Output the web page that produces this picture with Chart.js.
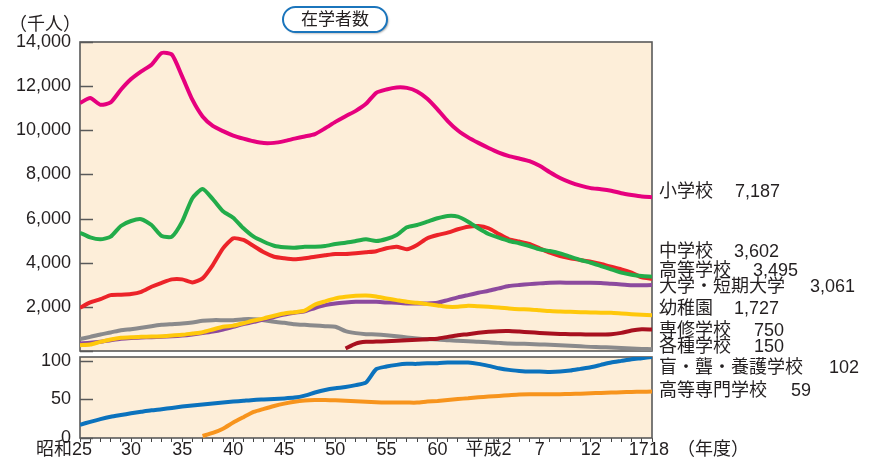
<!DOCTYPE html>
<html lang="ja">
<head>
<meta charset="utf-8">
<title>在学者数</title>
<script src="https://cdn.jsdelivr.net/npm/chart.js@4.4.1/dist/chart.umd.min.js"></script>
<style>
  html, body { margin: 0; padding: 0; background: #fff; }
  #wrap { position: relative; width: 876px; height: 461px; }
  #wrap canvas { position: absolute; left: 0; top: 0; }
</style>
</head>
<body>
<div id="wrap">
  <canvas id="upperChart" width="876" height="461"></canvas>
  <canvas id="lowerChart" width="876" height="461"></canvas>
</div>
<script>
// ─── Data (千人, 昭和25 = 1950 … 平成18 = 2006) ─────────────────────────────
const years = [
  1950, 1951, 1952, 1953, 1954, 1955, 1956, 1957, 1958, 1959,
  1960, 1961, 1962, 1963, 1964, 1965, 1966, 1967, 1968, 1969,
  1970, 1971, 1972, 1973, 1974, 1975, 1976, 1977, 1978, 1979,
  1980, 1981, 1982, 1983, 1984, 1985, 1986, 1987, 1988, 1989,
  1990, 1991, 1992, 1993, 1994, 1995, 1996, 1997, 1998, 1999,
  2000, 2001, 2002, 2003, 2004, 2005, 2006
];

const elementary = [
  11235, 11460, 11157, 11262, 11838, 12322, 12670, 12973, 13504, 13428,
  12443, 11385, 10627, 10200, 9960, 9760, 9620, 9500, 9420, 9430,
  9510, 9620, 9720, 9830, 10090, 10380, 10640, 10880, 11200, 11700,
  11850, 11940, 11920, 11760, 11430, 10950, 10420, 9990, 9680, 9430,
  9200, 8990, 8830, 8720, 8600, 8390, 8100, 7840, 7640, 7490,
  7380, 7330, 7260, 7150, 7070, 7000, 6970
];
const juniorHigh = [
  5360, 5150, 5060, 5180, 5665, 5890, 5970, 5710, 5210, 5180,
  5860, 6920, 7340, 6880, 6330, 6040, 5560, 5180, 4950, 4770,
  4700, 4680, 4725, 4725, 4757, 4848, 4907, 4984, 5061, 4984,
  5075, 5256, 5606, 5710, 5860, 6014, 6119, 6088, 5860, 5561,
  5302, 5134, 4984, 4880, 4757, 4607, 4530, 4426, 4271, 4122,
  4000, 3849, 3699, 3548, 3454, 3395, 3364
];
const highSchool = [
  1957, 2200, 2351, 2533, 2547, 2578, 2683, 2910, 3091, 3245,
  3245, 3109, 3291, 3895, 4650, 5107, 5030, 4757, 4471, 4271,
  4199, 4154, 4199, 4271, 4335, 4394, 4394, 4426, 4471, 4520,
  4653, 4725, 4607, 4803, 5107, 5256, 5361, 5515, 5633, 5665,
  5561, 5302, 5061, 4960, 4848, 4653, 4453, 4303, 4199, 4122,
  4045, 3940, 3818, 3699, 3548, 3336, 3273
];
const university = [
  340, 370, 420, 490, 555, 590, 610, 625, 640, 665,
  700, 750, 810, 880, 976, 1094, 1220, 1321, 1420, 1540,
  1650, 1730, 1800, 1950, 2079, 2156, 2200, 2229, 2229, 2229,
  2200, 2184, 2156, 2156, 2156, 2184, 2306, 2428, 2533, 2637,
  2728, 2837, 2941, 2990, 3030, 3064, 3091, 3100, 3091, 3091,
  3091, 3080, 3046, 3018, 2980, 2980, 2987
];
const kindergarten = [
  263, 293, 415, 521, 597, 627, 641, 657, 672, 703,
  733, 794, 853, 976, 1100, 1150, 1260, 1380, 1480, 1600,
  1700, 1760, 1830, 2100, 2250, 2383, 2456, 2501, 2519, 2470,
  2383, 2306, 2229, 2184, 2124, 2065, 2002, 2002, 2047, 2030,
  2002, 1975, 1929, 1897, 1884, 1845, 1807, 1790, 1775, 1760,
  1746, 1738, 1730, 1700, 1670, 1645, 1625
];
const specialTraining = [
  null, null, null, null, null, null, null, null, null, null,
  null, null, null, null, null, null, null, null, null, null,
  null, null, null, null, null, null, 112, 338, 415, 425,
  445, 468, 490, 513, 536, 560, 641, 717, 763, 822,
  867, 899, 905, 880, 850, 820, 794, 775, 763, 755,
  749, 752, 763, 822, 930, 985, 976
];
const miscSchool = [
  536, 641, 749, 840, 944, 990, 1049, 1126, 1185, 1217,
  1248, 1294, 1366, 1398, 1398, 1398, 1443, 1443, 1398, 1321,
  1276, 1217, 1185, 1157, 1126, 1100, 900, 810, 763, 749,
  717, 672, 613, 567, 536, 521, 490, 460, 445, 415,
  400, 368, 338, 330, 320, 300, 285, 260, 233, 210,
  187, 172, 157, 135, 112, 95, 82
];
const specialNeeds = [
  17.2, 21, 24.5, 27.5, 29.8, 32, 34, 35.9, 37.3, 39,
  40.7, 42.2, 43.5, 44.8, 46, 47.2, 48.3, 49.4, 50, 50.6,
  51.3, 52.4, 55, 59, 62.3, 64.5, 66, 68.5, 72, 89.2,
  92.6, 94.8, 96.1, 96.1, 97, 97, 97.8, 98, 97.8, 96.1,
  93.5, 90.5, 88.3, 87, 86.1, 86.1, 85.7, 86.1, 87.4, 89.6,
  91.8, 94.8, 97.8, 100, 102.2, 103.5, 105
];
const techCollege = [
  null, null, null, null, null, null, null, null, null, null,
  null, null, 2.6, 6.5, 12, 20, 27, 33.8, 37.8, 41.5,
  44.6, 47, 48.5, 49.2, 49.4, 48.8, 48.2, 47.5, 47, 46.3,
  45.9, 45.9, 45.9, 45.9, 47.2, 48.1, 49.4, 50.6, 51.5, 52.8,
  53.7, 54.5, 55.4, 56.3, 56.7, 56.7, 56.7, 56.7, 57.1, 57.5,
  58, 58.4, 58.9, 59.3, 59.7, 60, 60.2
];

// labels at the right end (名称 / 平成18年度の値)
const endNames = ['小学校', '中学校', '高等学校', '大学・短期大学', '幼稚園', '専修学校', '各種学校', '盲・聾・養護学校', '高等専門学校'];
const endValues = [7187, 3602, 3495, 3061, 1727, 750, 150, 102, 59];

const upperTicks = [0, 2000, 4000, 6000, 8000, 10000, 12000, 14000];
const lowerTicks = [0, 50, 100];
const tickYears = [1950, 1955, 1960, 1965, 1970, 1975, 1980, 1985, 1990, 1995, 2000, 2005, 2006];
const tickLabels = ['昭和25', '30', '35', '40', '45', '50', '55', '60', '平成2', '7', '12', '17', '18'];

// ─── Styles ──────────────────────────────────────────────────────────────────
const FONT = "'Liberation Sans', 'Noto Sans CJK JP', sans-serif";
const TEXT = '#231f20';
const plotBg = '#fdeed9';
const frameColor = '#595959';

const toPoints = vals => years.map((x, i) => ({ x, y: vals[i] })).filter(p => p.y !== null);
const line = (data, color) => ({
    data: toPoints(data),
    borderColor: color,
    borderWidth: 4,
    pointRadius: 0,
    tension: 0.2,
    borderJoinStyle: 'round',
    fill: false
});

// background, frame and inside tick marks of one panel
const panelPlugin = {
    id: 'panel',
    beforeDraw(chart) {
        const { ctx, chartArea: a } = chart;
        ctx.save();
        ctx.fillStyle = plotBg;
        ctx.fillRect(a.left, a.top, a.right - a.left, a.bottom - a.top);
        ctx.restore();
    },
    beforeDatasetsDraw(chart) {
        const { ctx, chartArea: a } = chart;
        const y = chart.scales.y;
        ctx.save();
        ctx.strokeStyle = frameColor;
        ctx.lineWidth = 1.6;
        ctx.strokeRect(a.left, a.top, a.right - a.left, a.bottom - a.top);
        ctx.lineWidth = 1.5;
        y.ticks.forEach(t => {
            const py = Math.round(y.getPixelForValue(t.value)) + 0.5;
            ctx.beginPath();
            ctx.moveTo(a.left, py);
            ctx.lineTo(a.left + 13, py);
            ctx.stroke();
        });
        ctx.restore();
    }
};

// title pill, unit and end labels
const upperText = {
    id: 'upperText',
    afterDraw(chart) {
        const ctx = chart.ctx;
        ctx.save();
        // 在学者数
        ctx.shadowColor = 'rgba(0,0,0,0.35)';
        ctx.shadowBlur = 2;
        ctx.shadowOffsetX = 1.5;
        ctx.shadowOffsetY = 1.5;
        ctx.beginPath();
        ctx.roundRect(283, 7, 104, 25, 12.5);
        ctx.fillStyle = '#fff';
        ctx.fill();
        ctx.shadowColor = 'transparent';
        ctx.strokeStyle = '#1b75bc';
        ctx.lineWidth = 2;
        ctx.stroke();
        ctx.fillStyle = TEXT;
        ctx.textBaseline = 'middle';
        ctx.textAlign = 'center';
        ctx.font = '17px ' + FONT;
        ctx.fillText('在学者数', 335, 20);

        ctx.textAlign = 'left';
        ctx.font = '18px ' + FONT;
        ctx.fillText('（千人）', 9, 25);

        const rows = [[192, 735], [251.7, 734], [270.7, 753], [287.3, 810], [309, 734], [331, 754], [347.3, 754], [368.3, 829], [390.7, 791]];
        endNames.forEach((name, i) => {
            const [ry, vx] = rows[i];
            ctx.fillText(name, 659, ry);
            ctx.fillText(endValues[i].toLocaleString('en-US'), vx, ry);
        });
        ctx.restore();
    }
};

// x labels of the lower panel
const xLabelPlugin = {
    id: 'xLabels',
    afterDraw(chart) {
        const { ctx } = chart;
        const x = chart.scales.x;
        ctx.save();
        ctx.fillStyle = TEXT;
        ctx.font = '18px ' + FONT;
        ctx.textBaseline = 'middle';
        tickYears.forEach((yr, i) => {
            let px = x.getPixelForValue(yr);
            ctx.textAlign = 'center';
            if (i === 0) { ctx.textAlign = 'right'; px += 12; }
            if (tickLabels[i] === '17') { ctx.textAlign = 'right'; px += 7; }
            if (tickLabels[i] === '18') { ctx.textAlign = 'left'; px -= 3; }
            ctx.fillText(tickLabels[i], px, 450);
        });
        ctx.textAlign = 'left';
        ctx.fillText('（年度）', 677, 450);
        ctx.restore();
    }
};

const yAxis = (min, max, ticks, hideZero) => ({
    min, max,
    afterBuildTicks: s => { s.ticks = ticks.map(v => ({ value: v })); },
    afterFit: s => { s.width = 80; },
    grid: { display: false, drawTicks: false },
    border: { display: false },
    ticks: {
        padding: 9,
        color: TEXT,
        font: { family: FONT, size: 18 },
        callback: v => (hideZero && v === 0) ? '' : v.toLocaleString('en-US')
    }
});

const baseOptions = {
    responsive: false,
    animation: false,
    events: [],
    plugins: { legend: { display: false }, tooltip: { enabled: false } }
};

// ─── Upper panel (0–14,000) ──────────────────────────────────────────────────
new Chart(document.getElementById('upperChart'), {
    type: 'line',
    data: {
        datasets: [
            line(elementary, '#e6007e'),
            line(juniorHigh, '#22ac4a'),
            line(highSchool, '#ec2329'),
            line(kindergarten, '#ffc80b'),
            line(university, '#8c4a9e'),
            line(specialTraining, '#a8101f'),
            line(miscSchool, '#8a8a8c')
        ]
    },
    options: {
        ...baseOptions,
        layout: { padding: { top: 42, right: 224, bottom: 110, left: 0 } },
        scales: {
            x: { type: 'linear', min: 1950, max: 2006, display: false },
            y: yAxis(0, 14000, upperTicks, true)
        }
    },
    plugins: [panelPlugin, upperText]
});

// ─── Lower panel (0–100) ─────────────────────────────────────────────────────
new Chart(document.getElementById('lowerChart'), {
    type: 'line',
    data: {
        datasets: [
            line(specialNeeds, '#0b72bd'),
            line(techCollege, '#f7941d')
        ]
    },
    options: {
        ...baseOptions,
        layout: { padding: { top: 357, right: 224, bottom: 19, left: 0 } },
        scales: {
            x: {
                type: 'linear', min: 1950, max: 2006,
                afterBuildTicks: s => { s.ticks = years.map(v => ({ value: v })); },
                ticks: { display: false },
                grid: { drawOnChartArea: false, drawTicks: true, tickLength: 4, color: '#444', lineWidth: 1 },
                border: { display: false }
            },
            y: yAxis(0, 105, lowerTicks, false)
        }
    },
    plugins: [panelPlugin, xLabelPlugin]
});
</script>
</body>
</html>
